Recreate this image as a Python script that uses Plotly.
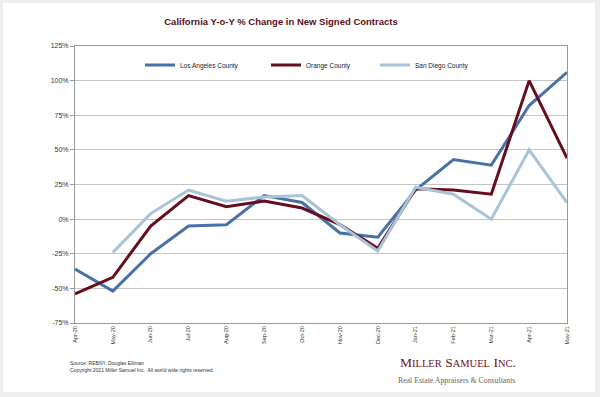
import plotly.graph_objects as go

months = ["Apr-20", "May-20", "Jun-20", "Jul-20", "Aug-20", "Sep-20", "Oct-20",
          "Nov-20", "Dec-20", "Jan-21", "Feb-21", "Mar-21", "Apr-21", "May-21"]
los_angeles = [-36, -52, -25, -5, -4, 17, 12, -10, -13, 21, 43, 39, 82, 106]
orange = [-54, -42, -5, 17, 9, 13, 8, -4, -21, 22, 21, 18, 100, 44]
san_diego = [None, -24, 4, 21, 13, 16, 17, -4, -23, 23, 18, 0, 50, 12]
y_ticks = [-75, -50, -25, 0, 25, 50, 75, 100, 125]
y_tick_text = ["-75%", "-50%", "-25%", "0%", "25%", "50%", "75%", "100%", "125%"]

L, R, T, B = 75, 33, 46, 74
W, H = 600, 397
pw, ph = W - L - R, H - T - B

def px(x):
    return (x - L) / pw

def py(y):
    return (H - B - y) / ph

fig = go.Figure()
fig.add_trace(go.Scatter(x=months, y=los_angeles, name="Los Angeles County", mode="lines",
                         line=dict(color="#4872a6", width=3), legend="legend"))
fig.add_trace(go.Scatter(x=months, y=orange, name="Orange County", mode="lines",
                         line=dict(color="#650f1e", width=3), legend="legend2"))
fig.add_trace(go.Scatter(x=months, y=san_diego, name="San Diego County", mode="lines",
                         line=dict(color="#a9c3d7", width=3), legend="legend3"))

def leg(x_text):
    return dict(orientation="h", x=px(x_text - 40), xanchor="left", y=py(65), yanchor="middle",
                font=dict(size=6.5, color="#222"), bgcolor="rgba(0,0,0,0)", itemwidth=30)

fig.update_layout(
    width=W, height=H,
    margin=dict(l=L, r=R, t=T, b=B),
    paper_bgcolor="#eeeeee",
    plot_bgcolor="white",
    font=dict(family="Liberation Sans, Arial", color="#222"),
    title=dict(text="<b>California Y-o-Y % Change in New Signed Contracts</b>",
               x=281 / W, xanchor="center", y=1 - 22 / H, yanchor="middle",
               font=dict(size=9.5, color="#5a1020")),
    showlegend=True,
    legend=leg(180), legend2=leg(306), legend3=leg(415),
    xaxis=dict(type="category", range=[0, 13], tickangle=-90, tickfont=dict(size=5.5, color="#333"),
               showgrid=False, showline=True, linecolor="#999", linewidth=1, mirror=True,
               ticks="", zeroline=False),
    yaxis=dict(range=[-75, 125], tickvals=y_ticks, ticktext=y_tick_text,
               tickfont=dict(size=7, color="#333"), showgrid=True, gridcolor="#c4c4c4",
               gridwidth=1, showline=True, linecolor="#999", linewidth=1, mirror=True,
               ticks="outside", ticklen=4, tickcolor="#999", zeroline=False),
    shapes=[dict(type="rect", xref="paper", yref="paper", x0=px(3), x1=px(595),
                 y0=py(392), y1=py(3), fillcolor="white", line=dict(width=0), layer="below")],
    annotations=[
        dict(text="Source: REBNY, Douglas Elliman", xref="paper", yref="paper",
             x=px(68), y=py(363), xanchor="left", yanchor="middle", showarrow=False,
             font=dict(size=5, color="#333")),
        dict(text="Copyright 2021 Miller Samuel Inc.  All world wide rights reserved.",
             xref="paper", yref="paper", x=px(68), y=py(370), xanchor="left", yanchor="middle",
             showarrow=False, font=dict(size=5, color="#333")),
        dict(text="M<span style='font-size:10.5px'>ILLER</span> S<span style='font-size:10.5px'>AMUEL</span> I<span style='font-size:10.5px'>NC</span>.",
             xref="paper", yref="paper", x=px(518), y=py(362), xanchor="right", yanchor="middle",
             showarrow=False, font=dict(size=13.5, color="#6b1424", family="Liberation Serif, serif")),
        dict(text="Real Estate Appraisers &amp; Consultants",
             xref="paper", yref="paper", x=px(517), y=py(380), xanchor="right", yanchor="middle",
             showarrow=False, font=dict(size=7.8, color="#666", family="Liberation Serif, serif")),
    ],
)

fig.write_html("out.html", post_script="document.body.style.margin='0';",
               config={"displayModeBar": False})
